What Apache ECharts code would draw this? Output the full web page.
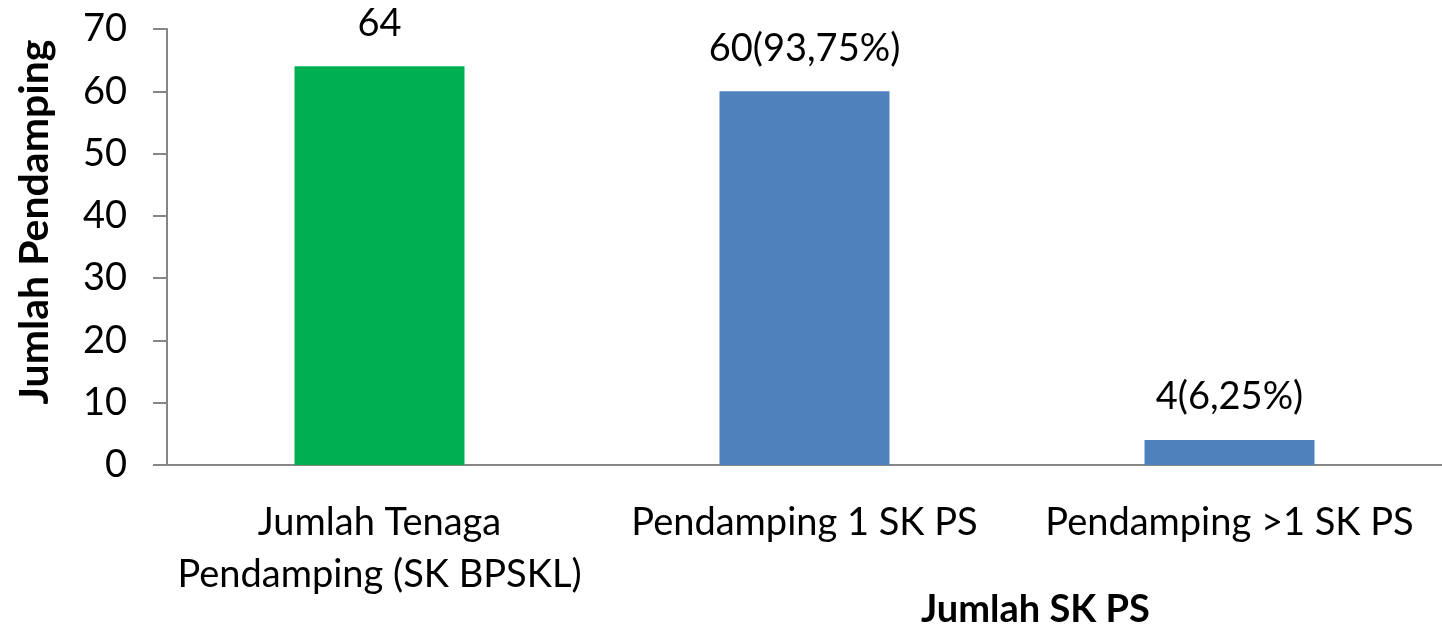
<!DOCTYPE html>
<html>
<head>
<meta charset="utf-8">
<script src="https://cdn.jsdelivr.net/npm/echarts@6/dist/echarts.min.js"></script>
<style>
html,body{margin:0;padding:0;background:#fff;}
#chart{width:1442px;height:630px;}
</style>
</head>
<body>
<div id="chart"></div>
<script>
const categories = ["Jumlah Tenaga\nPendamping (SK BPSKL)", "Pendamping 1 SK PS", "Pendamping >1 SK PS"];
const values = [64, 60, 4];
const valueLabels = ["64", "60(93,75%)", "4(6,25%)"];
const yTicks = [0, 10, 20, 30, 40, 50, 60, 70];

const FONT = "Lato";
const GREEN = "#00B050";
const BLUE = "#4F81BD";
const AXIS = "#868686";

const chart = echarts.init(document.getElementById("chart"), null, {renderer: "canvas"});
chart.setOption({
  animation: false,
  backgroundColor: "#fff",
  grid: {left: 167, right: 0, top: 29, bottom: 165, containLabel: false, outerBoundsMode: "none"},
  xAxis: {
    type: "category",
    data: categories,
    name: "Jumlah SK PS",
    nameLocation: "middle",
    nameGap: 126,
    nameMoveOverlap: false,
    nameTextStyle: {fontFamily: FONT, fontSize: 38, fontWeight: "bold", color: "#000", padding: [0, 0, 0, 462]},
    axisLine: {lineStyle: {color: AXIS, width: 2}},
    axisTick: {show: false},
    axisLabel: {fontFamily: FONT, fontSize: 38, color: "#000", margin: 32, lineHeight: 52, interval: 0}
  },
  yAxis: {
    type: "value",
    min: yTicks[0],
    max: yTicks[yTicks.length - 1],
    interval: 10,
    name: "Jumlah Pendamping",
    nameLocation: "middle",
    nameGap: 112,
    nameMoveOverlap: false,
    nameTextStyle: {fontFamily: FONT, fontSize: 41, fontWeight: "bold", color: "#000", padding: [0, 0, 0, 50]},
    axisLine: {show: true, lineStyle: {color: AXIS, width: 2}},
    axisTick: {show: true, length: 14, lineStyle: {color: AXIS, width: 2}},
    axisLabel: {fontFamily: FONT, fontSize: 38, color: "#000", margin: 40},
    splitLine: {show: false}
  },
  series: [{
    type: "bar",
    data: values,
    barWidth: "40%",
    itemStyle: {color: p => p.dataIndex === 0 ? GREEN : BLUE},
    label: {
      show: true,
      position: "top",
      distance: 24,
      fontFamily: FONT,
      fontSize: 38,
      color: "#000",
      formatter: p => valueLabels[p.dataIndex]
    }
  }]
});
</script>
</body>
</html>
